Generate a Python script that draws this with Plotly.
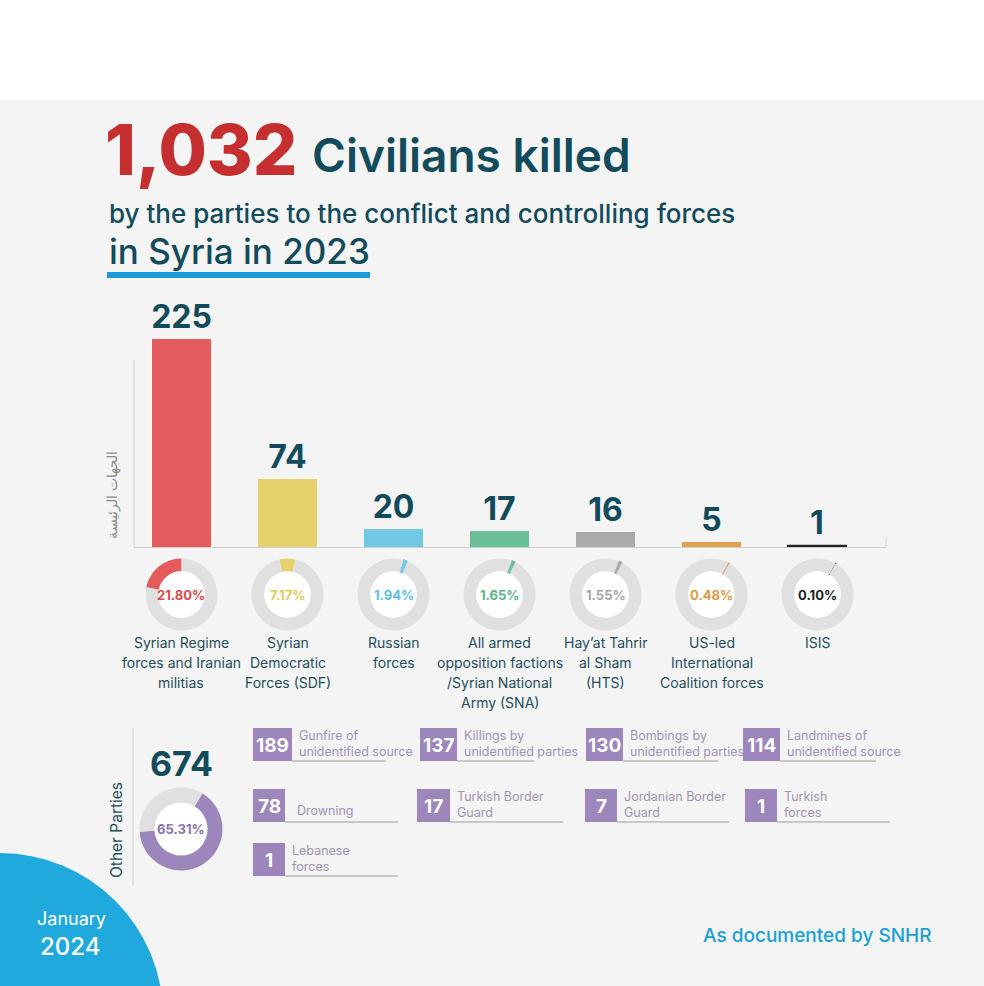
import plotly.graph_objects as go

W, H = 984, 986

# ---------------- data ----------------
total_killed = "1,032"
main_parties = [
    "Syrian Regime<br>forces and Iranian<br>militias",
    "Syrian<br>Democratic<br>Forces (SDF)",
    "Russian<br>forces",
    "All armed<br>opposition factions<br>/Syrian National<br>Army (SNA)",
    "Hay’at Tahrir<br>al Sham<br>(HTS)",
    "US-led<br>International<br>Coalition forces",
    "ISIS",
]
main_killed = [225, 74, 20, 17, 16, 5, 1]
main_share = [21.80, 7.17, 1.94, 1.65, 1.55, 0.48, 0.10]

other_total = 674
other_share = 65.31
other_parties = [
    "Gunfire of<br>unidentified source",
    "Killings by<br>unidentified parties",
    "Bombings by<br>unidentified parties",
    "Landmines of<br>unidentified source",
    "Drowning",
    "Turkish Border<br>Guard",
    "Jordanian Border<br>Guard",
    "Turkish<br>forces",
    "Lebanese<br>forces",
]
other_killed = [189, 137, 130, 114, 78, 17, 7, 1, 1]

# ---------------- styles ----------------
FONT = "Inter"
TEAL = "#124b5b"
bar_colors = ["#e35b5b", "#e6d26d", "#70c8e4", "#6bbf97", "#aaaaaa", "#dfa052", "#222222"]
pct_colors = ["#e04848", "#e0cb5c", "#5cbfdf", "#58b78a", "#a5a5a5", "#e0993f", "#1e1e1e"]
ring_grey = "#e0e0e0"
purple = "#9c86bb"
label_purple = "#a093b5"
# start angle of the coloured slice (clockwise); None = slice ends at 12 o'clock
donut_rot = [None, -13, 16, 20, 22, 28, 30]


def px(x):
    return x / W


def py(y):
    return 1 - y / H


annotations = []


def ann(x, y, text, font, xanchor="center", yanchor="middle", xref="paper", **kw):
    annotations.append(dict(x=x, y=py(y), xref=xref, yref="paper", text=text,
                            xanchor=xanchor, yanchor=yanchor, showarrow=False,
                            font=font, **kw))


# bar axes geometry
AX_L, AX_R, AX_B, AX_T = 134, 886, 547, 300
R0, R1 = -0.448, 6.646
YMAX = (AX_B - AX_T) / (208 / 225)


def cat_px(i):
    return AX_L + (i - R0) / (R1 - R0) * (AX_R - AX_L)


fig = go.Figure()

fig.add_trace(go.Bar(
    x=main_parties, y=main_killed,
    marker=dict(color=bar_colors,
                line=dict(color=bar_colors, width=[0, 0, 0, 0, 0, 0, 1.2])),
    width=0.557,
    text=[str(v) for v in main_killed], textposition="outside",
    textfont=dict(family=FONT, size=32, color=TEAL, weight=700),
    cliponaxis=False, constraintext="none",
    hoverinfo="skip", showlegend=False,
))

shapes = []

# background panel
shapes.append(dict(type="rect", xref="paper", yref="paper", x0=0, x1=1,
                   y0=0, y1=py(100), fillcolor="#f4f4f4", line_width=0, layer="below"))

# donuts for main parties
CY, R, HOLE = 594.5, 36, 0.65
for i, (name, share) in enumerate(zip(main_parties, main_share)):
    cx = cat_px(i)
    shapes.append(dict(type="circle", xref="paper", yref="paper",
                       x0=px(cx - R * HOLE), x1=px(cx + R * HOLE),
                       y0=py(CY + R * HOLE), y1=py(CY - R * HOLE),
                       fillcolor="white", line_width=0, layer="below"))
    lw = 1.2 if share < 2 else 0
    rot = donut_rot[i] if donut_rot[i] is not None else -3.6 * share
    fig.add_trace(go.Pie(
        values=[share, 100 - share], hole=HOLE, sort=False,
        direction="clockwise", rotation=rot,
        marker=dict(colors=[bar_colors[i], ring_grey],
                    line=dict(color=[bar_colors[i], ring_grey], width=[lw, 0])),
        textinfo="none", hoverinfo="skip", showlegend=False,
        domain=dict(x=[px(cx - R), px(cx + R)], y=[py(CY + R), py(CY - R)]),
    ))
    ann(name, CY, f"{share:.2f}%", dict(family=FONT, size=13, color=pct_colors[i], weight=700),
        xref="x")
    for k, line in enumerate(name.split("<br>")):
        ann(name, 642 + 20 * k, line, dict(family=FONT, size=14, color="#1f4e5c"), xref="x")

# y axis line and end tick
shapes.append(dict(type="line", xref="paper", yref="paper", x0=px(AX_L), x1=px(AX_L),
                   y0=py(AX_B), y1=py(360), line=dict(color="#cfcfcf", width=1)))
shapes.append(dict(type="line", xref="paper", yref="paper", x0=px(AX_R), x1=px(AX_R),
                   y0=py(AX_B), y1=py(537), line=dict(color="#cfcfcf", width=1)))

ann(px(112), 495, "الجهات الرئيسة", dict(family="Noto Sans", size=14, color="#8a8a8a"),
    textangle=-90)

# title block
ann(px(103), 150, total_killed, dict(family=FONT, size=70, color="#c62f2f", weight=800),
    xanchor="left")
ann(px(310), 155, "Civilians killed", dict(family=FONT, size=46, color=TEAL, weight=600),
    xanchor="left")
ann(px(107), 213, "by the parties to the conflict and controlling forces",
    dict(family=FONT, size=26, color=TEAL, weight=500), xanchor="left")
ann(px(107), 251, "in Syria in 2023", dict(family=FONT, size=35, color=TEAL, weight=500),
    xanchor="left")
shapes.append(dict(type="rect", xref="paper", yref="paper", x0=px(107), x1=px(370),
                   y0=py(278), y1=py(272), fillcolor="#1a9ad8", line_width=0))

# ---------------- other parties ----------------
OCX, OCY, OR, OHOLE = 181, 829, 41.5, 0.64
shapes.append(dict(type="circle", xref="paper", yref="paper",
                   x0=px(OCX - OR * OHOLE), x1=px(OCX + OR * OHOLE),
                   y0=py(OCY + OR * OHOLE), y1=py(OCY - OR * OHOLE),
                   fillcolor="white", line_width=0, layer="below"))
fig.add_trace(go.Pie(
    values=[other_share, 100 - other_share], hole=OHOLE, sort=False,
    direction="clockwise", rotation=31,
    marker=dict(colors=[purple, ring_grey]),
    textinfo="none", hoverinfo="skip", showlegend=False,
    domain=dict(x=[px(OCX - OR), px(OCX + OR)], y=[py(OCY + OR), py(OCY - OR)]),
))
ann(px(OCX), OCY, f"{other_share:.2f}%", dict(family=FONT, size=13, color="#8a74ad", weight=700))
ann(px(OCX), 763, str(other_total), dict(family=FONT, size=34, color=TEAL, weight=700))
ann(px(116), 830, "Other Parties", dict(family=FONT, size=15.5, color="#1f4e5c"), textangle=-90)
shapes.append(dict(type="line", xref="paper", yref="paper", x0=px(133), x1=px(133),
                   y0=py(885), y1=py(728), line=dict(color="#cccccc", width=1)))

# box layout: (box x0, box top, box width, underline end)
box_pos = [
    (253, 728, 39, 386), (420, 728, 37, 534), (586, 728, 37, 718), (743, 728, 37, 876),
    (253, 789, 32, 398), (417, 789, 33, 563), (585, 789, 32, 729), (745, 789, 32, 890),
    (253, 843, 32, 398),
]
BOX_H = 33
for (bx, by, bw, lend), name, val in zip(box_pos, other_parties, other_killed):
    shapes.append(dict(type="rect", xref="paper", yref="paper",
                       x0=px(bx), x1=px(bx + bw), y0=py(by + BOX_H), y1=py(by),
                       fillcolor=purple, line_width=0))
    shapes.append(dict(type="line", xref="paper", yref="paper",
                       x0=px(bx + bw), x1=px(lend), y0=py(by + BOX_H), y1=py(by + BOX_H),
                       line=dict(color="#c8c8c8", width=2)))
    ann(px(bx + bw / 2), by + BOX_H / 2 + 1, str(val),
        dict(family=FONT, size=19, color="white", weight=700))
    lines = name.split("<br>")
    if len(lines) == 2:
        ann(px(bx + bw + 5), by + 7, lines[0], dict(family=FONT, size=12.5, color=label_purple),
            xanchor="left")
        ann(px(bx + bw + 5), by + 23, lines[1], dict(family=FONT, size=12.5, color=label_purple),
            xanchor="left")
    else:
        ann(px(bx + bw + 10), by + 21, lines[0], dict(family=FONT, size=12.5, color=label_purple),
            xanchor="left")

# footer
shapes.append(dict(type="circle", xref="paper", yref="paper",
                   x0=px(-163), x1=px(163), y0=py(1016 + 163), y1=py(1016 - 163),
                   fillcolor="#1fa9dc", line_width=0))
ann(px(71), 918, "January", dict(family=FONT, size=18, color="white"))
ann(px(70), 946, "2024", dict(family=FONT, size=24, color="white", weight=500))
ann(px(817), 935, "As documented by SNHR", dict(family=FONT, size=19, color="#1ba0d5", weight=500))

fig.update_layout(
    width=W, height=H, autosize=False,
    margin=dict(l=0, r=0, t=0, b=0),
    paper_bgcolor="white", plot_bgcolor="rgba(0,0,0,0)",
    xaxis=dict(domain=[px(AX_L), px(AX_R)], range=[R0, R1], type="category",
               showticklabels=False, ticks="", showgrid=False, zeroline=False,
               showline=True, linecolor="#cfcfcf", linewidth=1, fixedrange=True),
    yaxis=dict(domain=[py(AX_B), py(AX_T)], range=[0, YMAX],
               showticklabels=False, ticks="", showgrid=False, zeroline=False,
               showline=False, fixedrange=True),
    shapes=shapes, annotations=annotations,
    bargap=0,
)

fig.write_html("out.html")
